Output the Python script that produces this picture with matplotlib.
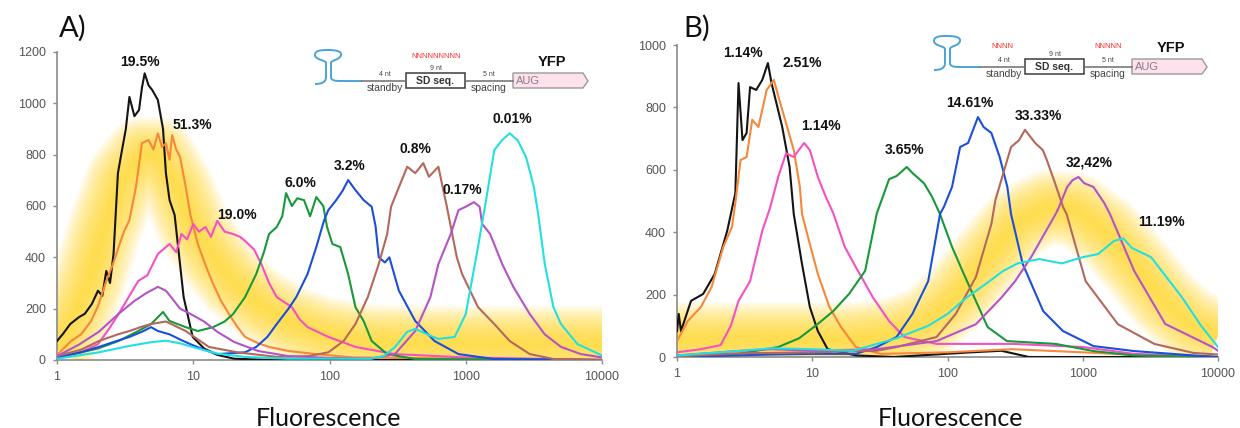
import numpy as np
import matplotlib
matplotlib.use("Agg")
import matplotlib.pyplot as plt
from matplotlib.path import Path
from matplotlib.patches import PathPatch, Rectangle, Polygon
from matplotlib.ticker import NullLocator

plt.rcParams['font.family'] = ['Liberation Sans', 'DejaVu Sans']

# ---------------- panel A: flow cytometry histograms (fluorescence, counts) ----------------
A_BLACK_X = [1, 1.1, 1.25, 1.45, 1.6, 1.8, 2.0, 2.15, 2.3, 2.45, 2.6, 2.8, 3.0, 3.2, 3.4, 3.7, 4.0, 4.2, 4.4, 4.7,
             5.0, 5.5, 6.0, 6.3, 6.7, 7.3, 8.5, 9.9, 12, 15, 20, 40, 10000]
A_BLACK_Y = [74, 100, 140, 167, 180, 218, 270, 250, 347, 300, 413, 728, 818, 900, 1025, 950, 974, 1060, 1117, 1070,
             1052, 1013, 900, 728, 623, 565, 245, 90, 45, 20, 5, 0, 0]

A_ORANGE_X = [1, 1.27, 1.5, 1.78, 2.0, 2.3, 2.6, 2.83, 3.1, 3.4, 3.8, 4.2, 4.7, 5.1, 5.5, 5.9, 6.3, 6.7, 7.0, 7.5,
              8.0, 8.8, 9.5, 10.8, 12.5, 14, 16, 18.3, 21, 24, 30, 36, 50, 80, 150, 10000]
A_ORANGE_Y = [20, 74, 100, 152, 210, 308, 380, 440, 500, 545, 675, 845, 857, 820, 883, 830, 845, 780, 876, 820,
              791, 675, 569, 452, 360, 296, 230, 179, 130, 90, 65, 51, 35, 23, 10, 0]

A_PINK_X = [1, 1.5, 2.0, 2.4, 2.83, 3.4, 3.95, 4.6, 5.5, 6.7, 7.5, 8.2, 9.0, 10, 11, 12.3, 13.5, 15, 17, 19.6,
            22, 24, 28, 31.6, 36, 41, 53, 60, 69, 98, 155, 300, 1000, 10000]
A_PINK_Y = [10, 30, 62, 120, 179, 250, 308, 330, 413, 452, 420, 491, 470, 530, 500, 518, 480, 542, 500, 491,
            480, 464, 430, 374, 300, 245, 206, 160, 128, 90, 51, 23, 10, 0]

A_GREEN_X = [1, 1.5, 2.0, 2.83, 3.95, 4.9, 6.0, 6.7, 8.8, 10.8, 14, 17, 19.6, 24, 29, 33, 36, 41, 45, 48,
             53, 58, 65, 72, 80, 90, 96, 105, 120, 137, 155, 178, 204, 265, 426, 10000]
A_GREEN_Y = [10, 30, 45, 74, 113, 140, 187, 152, 128, 113, 128, 150, 179, 245, 335, 420, 491, 518, 560, 650,
             600, 630, 623, 560, 635, 600, 518, 452, 440, 335, 206, 152, 74, 23, 4, 0]

A_BLUE_X = [1, 1.5, 2.03, 2.6, 3.4, 4.2, 4.9, 5.5, 6.7, 8, 9.5, 12, 15, 24, 29, 35, 41, 50, 57, 69,
            80, 91, 98, 112, 125, 137, 155, 178, 204, 218, 230, 255, 275, 323, 426, 590, 885, 1600, 10000]
A_BLUE_Y = [10, 30, 51, 70, 90, 110, 128, 113, 100, 80, 62, 40, 23, 30, 51, 90, 140, 200, 245, 335,
            440, 542, 584, 623, 660, 701, 662, 623, 597, 520, 400, 380, 400, 270, 152, 74, 23, 4, 0]

A_BROWN_X = [1, 1.5, 2.03, 2.8, 3.4, 4.2, 4.9, 6.3, 8.8, 13, 21, 41, 70, 98, 127, 155, 191, 230, 265, 283,
             324, 372, 426, 488, 537, 630, 676, 725, 776, 860, 940, 1230, 1620, 2100, 2950, 4400, 10000]
A_BROWN_Y = [15, 40, 74, 100, 113, 130, 140, 150, 113, 51, 30, 12, 15, 30, 74, 140, 245, 374, 491, 597,
             675, 753, 728, 767, 714, 753, 675, 600, 520, 400, 335, 206, 140, 74, 23, 4, 0]

A_PURPLE_X = [1, 1.45, 2.03, 2.83, 3.7, 4.5, 5.5, 6.3, 7.0, 8, 9.5, 12, 15, 20, 30, 50, 100, 200, 302, 426,
              550, 630, 776, 885, 1000, 1150, 1265, 1320, 1510, 1850, 2240, 2950, 3800, 5000, 7000, 10000]
A_PURPLE_Y = [15, 60, 110, 180, 230, 260, 285, 270, 240, 200, 180, 150, 110, 70, 35, 15, 8, 5, 23, 113,
              245, 374, 491, 584, 597, 615, 597, 530, 491, 374, 284, 179, 100, 51, 23, 10]

A_CYAN_X = [1, 2.03, 3.4, 5, 6.3, 8, 10, 15, 24, 50, 200, 250, 302, 372, 426, 560, 630, 830, 1000, 1230,
            1410, 1620, 1850, 2100, 2400, 2770, 3160, 3400, 3800, 4400, 5000, 6600, 10000]
A_CYAN_Y = [5, 30, 55, 70, 75, 65, 50, 25, 12, 5, 5, 15, 50, 110, 121, 93, 82, 90, 179, 440,
            623, 818, 857, 883, 857, 791, 675, 569, 374, 206, 140, 62, 18]

A_LABELS = ['19.5%', '51.3%', '19.0%', '6.0%', '3.2%', '0.8%', '0.17%', '0.01%']
A_LABEL_X = [4.06, 9.8, 21, 61, 141, 425, 943, 2180]
A_LABEL_Y = [1161, 916, 565, 690, 756, 822, 662, 938]

# yellow highlight band behind the panel A curves
GLOW_A_X = [1, 1.3, 1.7, 2.2, 3.0, 4.2, 5.5, 7.5, 10, 14, 20, 30, 50, 90, 200, 1000, 10000]
GLOW_A_Y = [40, 150, 300, 500, 700, 800, 800, 680, 520, 400, 300, 220, 150, 100, 70, 65, 65]

# ---------------- panel B ----------------
B_BLACK_X = [1, 1.03, 1.07, 1.27, 1.56, 1.9, 2.35, 2.7, 2.85, 3.05, 3.27, 3.47, 3.85, 4.27, 4.7, 5.0, 6.0, 6.8,
             7.3, 8.4, 9.6, 11, 13, 21, 40, 150, 250, 400, 10000]
B_BLACK_Y = [83, 138, 83, 180, 202, 266, 404, 525, 878, 695, 718, 865, 856, 888, 942, 878, 737, 609,
             458, 298, 160, 83, 25, 5, 0, 15, 20, 0, 0]

B_ORANGE_X = [1, 1.2, 1.5, 1.8, 2.2, 2.55, 2.7, 2.95, 3.27, 3.6, 4.0, 4.6, 5.2, 5.8, 6.4, 7.3, 8.1, 8.4, 9.6,
              11, 13.4, 16.3, 21, 32, 100, 300, 1000, 3000, 10000]
B_ORANGE_Y = [51, 115, 160, 224, 353, 417, 494, 631, 641, 760, 737, 856, 888, 814, 750, 663, 545, 458, 362,
              266, 160, 96, 32, 10, 15, 25, 15, 5, 0]

B_PINK_X = [1, 1.5, 2.1, 2.5, 2.85, 3.47, 4.27, 4.9, 5.6, 6.4, 7.3, 8.7, 9.6, 11, 12.6, 14.3, 17.4, 21, 28,
            37, 48, 83, 300, 1000, 2400, 10000]
B_PINK_Y = [15, 25, 38, 100, 180, 243, 404, 481, 577, 653, 641, 686, 663, 577, 513, 461, 353, 288, 192,
            115, 64, 42, 42, 32, 10, 0]

B_GREEN_X = [1, 2.85, 5.6, 8, 11, 14.3, 18.7, 24.6, 30, 37, 42, 50, 55, 67, 77, 88, 108, 132, 162, 198,
             275, 630, 1200, 2400, 10000]
B_GREEN_Y = [5, 10, 32, 60, 106, 147, 202, 276, 460, 570, 580, 609, 590, 557, 513, 458, 353, 266, 180, 96,
             51, 42, 19, 5, 0]

B_BLUE_X = [1, 5, 10, 21, 30, 42, 55, 72, 88, 94, 108, 124, 142, 168, 185, 211, 243, 277, 295, 360, 510,
            715, 1200, 2400, 6600, 10000]
B_BLUE_Y = [0, 8, 10, 10, 32, 64, 138, 243, 458, 481, 545, 673, 686, 769, 737, 718, 641, 545, 458, 298, 147,
            83, 35, 19, 5, 0]

B_BROWN_X = [1, 3, 10, 30, 42, 83, 115, 162, 211, 226, 259, 295, 338, 374, 445, 507, 543, 624, 715, 760,
             1050, 1820, 3380, 6600, 10000]
B_BROWN_Y = [2, 12, 15, 20, 32, 64, 138, 256, 426, 503, 590, 673, 695, 728, 686, 663, 631, 557, 481, 458,
             243, 105, 42, 13, 8]

B_PURPLE_X = [1, 3, 5, 10, 30, 83, 162, 250, 316, 415, 630, 668, 767, 841, 930, 1025, 1200, 1440, 1590,
              2400, 4070, 9100, 10000]
B_PURPLE_Y = [5, 20, 25, 20, 25, 51, 105, 190, 243, 320, 458, 481, 545, 567, 577, 557, 545, 494, 458,
              276, 106, 32, 20]

B_CYAN_X = [1, 3, 5, 10, 20, 42, 72, 100, 138, 200, 258, 330, 477, 700, 1000, 1300, 1700, 2000, 2300, 3200,
            5400, 7500, 10000]
B_CYAN_Y = [5, 20, 28, 25, 20, 60, 100, 138, 190, 240, 276, 300, 314, 300, 320, 330, 372, 380, 350, 320,
            192, 100, 32]

B_LABELS = ['1.14%', '2.51%', '1.14%', '3.65%', '14.61%', '33.33%', '32,42%', '11.19%']
B_LABEL_X = [3.08, 8.4, 11.6, 48.5, 147, 468, 1110, 3800]
B_LABEL_Y = [974, 942, 740, 663, 814, 772, 622, 433]

GLOW_B_X = [1, 5, 20, 40, 70, 120, 200, 330, 550, 900, 1500, 2500, 4000, 6500, 10000]
GLOW_B_Y = [55, 55, 55, 70, 110, 200, 320, 430, 480, 470, 400, 290, 180, 100, 70]

COLORS = ['#141414', '#f7873a', '#f550c4', '#17993a', '#1b4fd8', '#b4685c', '#b453c6', '#22e0e0']
X_TICKS = [1, 10, 100, 1000, 10000]

A_CURVES = [(A_BLACK_X, A_BLACK_Y), (A_ORANGE_X, A_ORANGE_Y), (A_PINK_X, A_PINK_Y), (A_GREEN_X, A_GREEN_Y),
            (A_BLUE_X, A_BLUE_Y), (A_BROWN_X, A_BROWN_Y), (A_PURPLE_X, A_PURPLE_Y), (A_CYAN_X, A_CYAN_Y)]
B_CURVES = [(B_BLACK_X, B_BLACK_Y), (B_ORANGE_X, B_ORANGE_Y), (B_PINK_X, B_PINK_Y), (B_GREEN_X, B_GREEN_Y),
            (B_BLUE_X, B_BLUE_Y), (B_BROWN_X, B_BROWN_Y), (B_PURPLE_X, B_PURPLE_Y), (B_CYAN_X, B_CYAN_Y)]


def draw_panel(ax, curves, glow_x, glow_y, labels, lx, ly, ymax, ystep):
    # soft yellow glow: many thin translucent strokes stacked so the edge fades out
    for lw in np.linspace(54, 6, 16):
        ax.plot(glow_x, glow_y, color='#ffd824', lw=lw, alpha=0.085, solid_joinstyle='round',
                solid_capstyle='butt', zorder=1)
    for (cx, cy), col in zip(curves, COLORS):
        ax.plot(cx, cy, color=col, lw=1.5, zorder=3)
    for t, x, y in zip(labels, lx, ly):
        ax.text(x, y, t, ha='center', va='center', fontsize=10, fontweight='bold', color='#111111', zorder=4)
    ax.set_xscale('log')
    ax.set_xlim(1, 10000)
    ax.set_ylim(0, ymax)
    ax.set_xticks(X_TICKS)
    ax.set_xticklabels([str(v) for v in X_TICKS])
    ax.xaxis.set_minor_locator(NullLocator())
    ax.set_yticks(np.arange(0, ymax + 1, ystep))
    for s in ['top', 'right']:
        ax.spines[s].set_visible(False)
    for s in ['left', 'bottom']:
        ax.spines[s].set_color('#8a8a8a')
        ax.spines[s].set_linewidth(1.2)
    ax.tick_params(axis='both', labelsize=9, labelcolor='#555555', color='#8a8a8a', length=3, width=1, pad=5)
    ax.patch.set_alpha(0)


def hairpin_path(dx, L):
    verts = [(315, L + 3), (322, L + 3), (326, L + 1), (326, L - 4),
             (326, L - 18),
             (326, L - 21), (315, L - 21), (315, L - 26),
             (315, L - 31), (322, L - 31), (328, L - 31),
             (335, L - 31), (342, L - 30), (341, L - 26),
             (340, L - 21), (331, L - 21), (331, L - 18),
             (331, L - 4),
             (331, L - 1), (334, L), (340, L),
             (362, L)]
    codes = [Path.MOVETO] + [Path.CURVE4] * 3 + [Path.LINETO] + [Path.CURVE4] * 12 + [Path.LINETO] + \
        [Path.CURVE4] * 3 + [Path.LINETO]
    verts = [(x + dx, y) for x, y in verts]
    return Path(verts, codes)


def draw_construct(ov, dx, L, n_top, n_standby, n_spacing):
    gray = '#6e6e6e'
    ov.add_patch(PathPatch(hairpin_path(dx, L), fill=False, ec='#4aa3d6', lw=1.4))
    ov.plot([362 + dx, 406 + dx], [L, L], color=gray, lw=1.1)
    ov.plot([465 + dx, 513 + dx], [L, L], color=gray, lw=1.1)
    ov.add_patch(Rectangle((406 + dx, L - 8), 59, 15, fc='white', ec='#3c3c3c', lw=1.1))
    ov.add_patch(Polygon([(513 + dx, L - 8), (583 + dx, L - 8), (588 + dx, L), (583 + dx, L + 7),
                          (513 + dx, L + 7)], closed=True, fc='#fde2ee', ec='#9a9a9a', lw=1.0))
    ov.text(435.5 + dx, L, 'SD seq.', ha='center', va='center', fontsize=7.5, fontweight='bold', color='#333333')
    ov.text(516 + dx, L, 'AUG', ha='left', va='center', fontsize=8, color='#8c7a86')
    ov.text(385 + dx, L - 7, '4 nt', ha='center', va='center', fontsize=5, color='#444444')
    ov.text(436 + dx, L - 13, '9 nt', ha='center', va='center', fontsize=5, color='#444444')
    ov.text(489 + dx, L - 7, '5 nt', ha='center', va='center', fontsize=5, color='#444444')
    ov.text(385 + dx, L + 6.5, 'standby', ha='center', va='center', fontsize=7.5, color='#444444')
    ov.text(489 + dx, L + 6.5, 'spacing', ha='center', va='center', fontsize=7.5, color='#444444')
    ov.text(552 + dx, L - 19, 'YFP', ha='center', va='center', fontsize=10.5, fontweight='bold', color='#111111')
    if n_top:
        ov.text(436 + dx, L - 25, n_top, ha='center', va='center', fontsize=5.5, color='#ff2a2a')
    if n_standby:
        ov.text(383 + dx, L - 21, n_standby, ha='center', va='center', fontsize=5.5, color='#ff2a2a')
    if n_spacing:
        ov.text(489 + dx, L - 21, n_spacing, ha='center', va='center', fontsize=5.5, color='#ff2a2a')


fig = plt.figure(figsize=(12.4, 4.28), dpi=100)
axA = fig.add_axes([57 / 1240, 1 - 360 / 428, 545 / 1240, 308 / 428])
axB = fig.add_axes([677 / 1240, 1 - 357 / 428, 541 / 1240, 312 / 428])

draw_panel(axA, A_CURVES, GLOW_A_X, GLOW_A_Y, A_LABELS, A_LABEL_X, A_LABEL_Y, 1200, 200)
draw_panel(axB, B_CURVES, GLOW_B_X, GLOW_B_Y, B_LABELS, B_LABEL_X, B_LABEL_Y, 1000, 200)

# overlay in pixel coordinates for the construct sketches and panel captions
ov = fig.add_axes([0, 0, 1, 1], zorder=5)
ov.set_xlim(0, 1240)
ov.set_ylim(428, 0)
ov.axis('off')
ov.patch.set_alpha(0)

draw_construct(ov, 0, 81, 'NNNNNNNNN', None, None)
draw_construct(ov, 619, 67, None, 'NNNN', 'NNNNN')

ov.text(59, 28, 'A)', ha='left', va='center', fontsize=21, family=['Lato', 'DejaVu Sans'], color='#111111')
ov.text(683, 28, 'B)', ha='left', va='center', fontsize=21, family=['Lato', 'DejaVu Sans'], color='#111111')
ov.text(329, 426, 'Fluorescence', ha='center', va='baseline', fontsize=18, family=['Lato', 'DejaVu Sans'],
        color='#111111')
ov.text(950, 426, 'Fluorescence', ha='center', va='baseline', fontsize=18, family=['Lato', 'DejaVu Sans'],
        color='#111111')

fig.savefig('out.png', dpi=100)
